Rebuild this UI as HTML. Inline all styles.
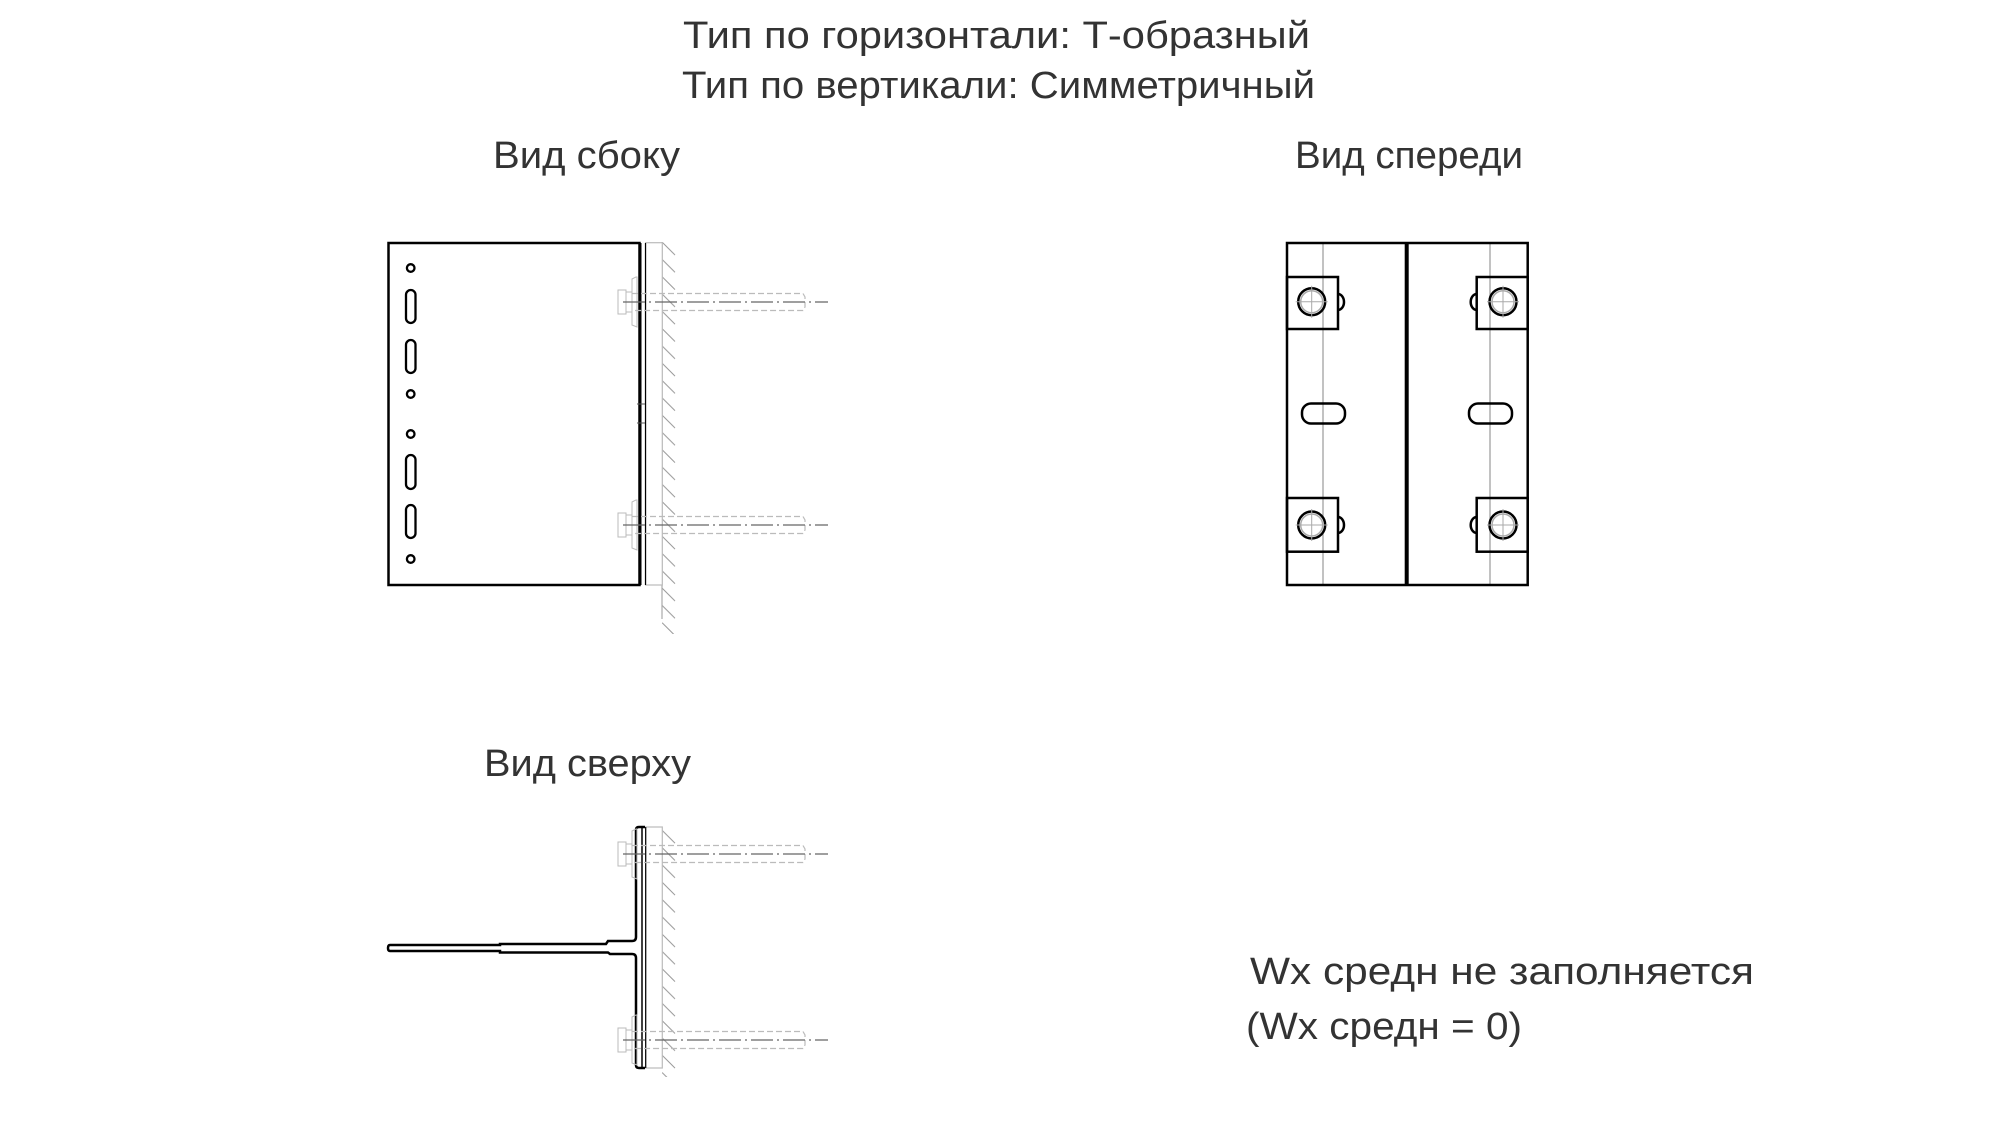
<!DOCTYPE html>
<html><head><meta charset="utf-8"><style>
html,body{margin:0;padding:0;background:#fff}
svg{display:block}
text{font-family:"Liberation Sans","DejaVu Sans",sans-serif;font-size:38px;fill:#333}
</style></head><body>
<svg width="2000" height="1125" viewBox="0 0 2000 1125" xmlns="http://www.w3.org/2000/svg">
<defs>
<pattern id="hatch" x="662" y="242" width="20" height="17.3" patternUnits="userSpaceOnUse">
<line x1="0" y1="0" x2="13" y2="13" stroke="#999" stroke-width="1"/>
</pattern>
<g id="boltS">
<rect x="618" y="-12" width="8" height="24" fill="none" stroke="#bbb" stroke-width="1"/>
<rect x="626" y="-10" width="6" height="20" fill="none" stroke="#bbb" stroke-width="1"/>
<path d="M632,-23 L636,-25 L637,-25 L637,25 L632,23 Z" fill="none" stroke="#bbb" stroke-width="1"/>
<path d="M632,-8.5 H803 L805,-5 V5 L803,8.5 H632" fill="none" stroke="#bbb" stroke-width="1.2" stroke-dasharray="6,3"/>
<line x1="623" y1="0" x2="828" y2="0" stroke="#666" stroke-width="1.2" stroke-dasharray="22,4,2,4"/>
</g>
</defs>

<text x="683" y="48" textLength="627" lengthAdjust="spacingAndGlyphs">Тип по горизонтали: Т-образный</text>
<text x="682" y="98" textLength="633" lengthAdjust="spacingAndGlyphs">Тип по вертикали: Симметричный</text>
<text x="493" y="168" textLength="187" lengthAdjust="spacingAndGlyphs">Вид сбоку</text>
<text x="1295" y="168" textLength="228" lengthAdjust="spacingAndGlyphs">Вид спереди</text>
<text x="484" y="776" textLength="207" lengthAdjust="spacingAndGlyphs">Вид сверху</text>
<text x="1250" y="984" textLength="504" lengthAdjust="spacingAndGlyphs">Wx средн не  заполняется</text>
<text x="1246" y="1039" textLength="276" lengthAdjust="spacingAndGlyphs">(Wx средн = 0)</text>

<!-- SIDE VIEW -->
<rect x="662" y="242" width="20" height="392" fill="url(#hatch)"/>
<line x1="662" y1="242" x2="662" y2="619" stroke="#aaa" stroke-width="1.2"/>
<rect x="645.7" y="242.7" width="16.6" height="342.3" fill="#fff" stroke="#bbb" stroke-width="1.2"/>
<rect x="388.5" y="243" width="251" height="342" fill="none" stroke="#000" stroke-width="2.5"/>
<line x1="640" y1="243" x2="640" y2="585" stroke="#000" stroke-width="3"/>
<line x1="645.5" y1="243" x2="645.5" y2="585" stroke="#000" stroke-width="1.2"/>
<line x1="637" y1="404" x2="645" y2="404" stroke="#555" stroke-width="1"/>
<line x1="637" y1="423" x2="645" y2="423" stroke="#555" stroke-width="1"/>
<g fill="none" stroke="#000" stroke-width="2.3">
<circle cx="410.7" cy="268" r="3.8"/>
<rect x="406" y="290" width="9.5" height="33" rx="4.75"/>
<rect x="406" y="340" width="9.5" height="33" rx="4.75"/>
<circle cx="410.7" cy="394" r="3.8"/>
<circle cx="410.7" cy="434" r="3.8"/>
<rect x="406" y="455" width="9.5" height="34" rx="4.75"/>
<rect x="406" y="505" width="9.5" height="33" rx="4.75"/>
<circle cx="410.7" cy="559" r="3.8"/>
</g>
<use href="#boltS" transform="translate(0,302)"/>
<use href="#boltS" transform="translate(0,525)"/>

<!-- TOP VIEW -->
<rect x="662" y="827" width="20" height="250" fill="url(#hatch)"/>
<rect x="645.7" y="827" width="16.6" height="241" fill="#fff" stroke="#bbb" stroke-width="1.2"/>
<path d="M645,827 H639 Q636,827 636,830 V878 L636,937 Q636,941 632,941 H608 L606,944 H500 V945 H390 Q388,945 388,948 Q388,951 390,951 H500 V952.5 H608 L610,954 H632 Q636,954 636,958 V1065 Q636,1068 639,1068 H645" fill="none" stroke="#000" stroke-width="2.5"/>
<line x1="642" y1="827" x2="642" y2="1068" stroke="#000" stroke-width="1.5"/>
<line x1="645.7" y1="827" x2="645.7" y2="1068" stroke="#000" stroke-width="1.2"/>
<use href="#boltS" transform="translate(0,854)"/>
<use href="#boltS" transform="translate(0,1040)"/>

<!-- FRONT VIEW -->
<g stroke="#999" stroke-width="1.2">
<line x1="1323" y1="243" x2="1323" y2="585"/>
<line x1="1490" y1="243" x2="1490" y2="585"/>
</g>
<g fill="none" stroke="#000" stroke-width="2.5">
<rect x="1287" y="243" width="240.7" height="342"/>
<rect x="1287" y="277" width="51" height="52"/>
<rect x="1287" y="498" width="51" height="53.7"/>
<rect x="1476.7" y="277" width="51" height="52"/>
<rect x="1476.7" y="498" width="51" height="53.7"/>
<path d="M1338,294 A6,8 0 0 1 1338,310"/>
<path d="M1338,517 A6,8 0 0 1 1338,533"/>
<path d="M1476.7,294 A6,8 0 0 0 1476.7,310"/>
<path d="M1476.7,517 A6,8 0 0 0 1476.7,533"/>
<rect x="1302" y="403.5" width="43" height="20" rx="9"/>
<rect x="1469" y="403.5" width="43" height="20" rx="9"/>
</g>
<line x1="1406.7" y1="243" x2="1406.7" y2="585" stroke="#000" stroke-width="4"/>
<g>
<g transform="translate(1311.7,301.7)"><circle r="13.5" fill="#fff" stroke="#000" stroke-width="2.5"/><circle r="11" fill="none" stroke="#aaa" stroke-width="1.5"/><path d="M-16,0H16M0,-16V16" stroke="#aaa" stroke-width="1"/></g>
<g transform="translate(1311.7,525)"><circle r="13.5" fill="#fff" stroke="#000" stroke-width="2.5"/><circle r="11" fill="none" stroke="#aaa" stroke-width="1.5"/><path d="M-16,0H16M0,-16V16" stroke="#aaa" stroke-width="1"/></g>
<g transform="translate(1503,301.7)"><circle r="13.5" fill="#fff" stroke="#000" stroke-width="2.5"/><circle r="11" fill="none" stroke="#aaa" stroke-width="1.5"/><path d="M-16,0H16M0,-16V16" stroke="#aaa" stroke-width="1"/></g>
<g transform="translate(1503,525)"><circle r="13.5" fill="#fff" stroke="#000" stroke-width="2.5"/><circle r="11" fill="none" stroke="#aaa" stroke-width="1.5"/><path d="M-16,0H16M0,-16V16" stroke="#aaa" stroke-width="1"/></g>
</g>
</svg>
</body></html>
